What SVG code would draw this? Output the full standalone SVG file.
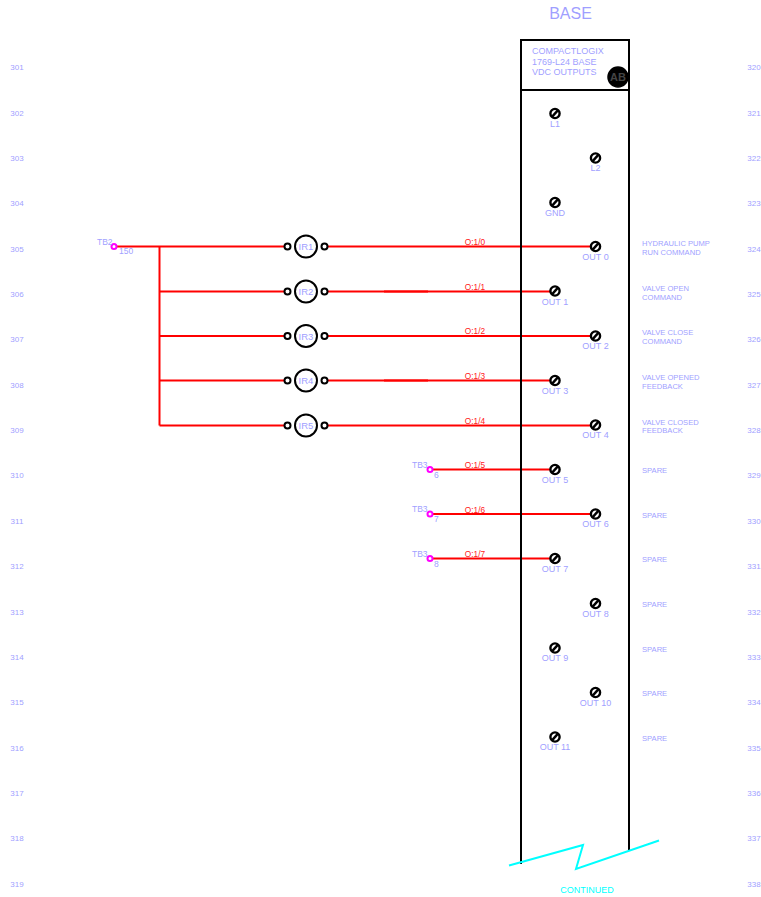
<svg xmlns="http://www.w3.org/2000/svg" width="761" height="897" viewBox="0 0 761 897">
<style>
text{font-family:"Liberation Sans",Arial,sans-serif;fill:#9f9fff;font-size:9px}
.m{text-anchor:middle}
.n{font-size:8px;text-anchor:middle}
.w{fill:none;stroke:#ff0000;stroke-width:2}
.w2{fill:none;stroke:#ff0000;stroke-width:1.8}
.r{fill:#ff2020;font-size:8.3px;text-anchor:middle}
.b{fill:none;stroke:#000;stroke-width:2}
.tb{fill:#fff;stroke:#ff00ff;stroke-width:2}
.lamp{fill:#fff;stroke:#000;stroke-width:2}
.pin{fill:#fff;stroke:#000;stroke-width:2}
.t1{fill:#fff;stroke:#000;stroke-width:2.4}
.t2{stroke:#000;stroke-width:2.4}
.c{fill:#00ffff;font-size:9px;text-anchor:middle}
.d{font-size:7.6px}
.l{font-size:9.5px;text-anchor:middle}
.s{font-size:8.5px}
</style>
<defs>
<g id="term"><circle class="t1" r="4.600"/><line class="t2" x1="-3.200" y1="3.600" x2="3.200" y2="-3.600"/></g>
<g id="lampg"><circle class="pin" cx="-18.500" r="3"/><circle class="pin" cx="18.500" r="3"/><circle class="lamp" r="11"/></g>
</defs>
<g id="rungs-left">
<text class="n" x="17" y="70">301</text><text class="n" x="17" y="116">302</text><text class="n" x="17" y="161">303</text><text class="n" x="17" y="206">304</text><text class="n" x="17" y="252">305</text><text class="n" x="17" y="297">306</text><text class="n" x="17" y="342">307</text><text class="n" x="17" y="388">308</text><text class="n" x="17" y="433">309</text><text class="n" x="17" y="478">310</text><text class="n" x="17" y="524">311</text><text class="n" x="17" y="569">312</text><text class="n" x="17" y="615">313</text><text class="n" x="17" y="660">314</text><text class="n" x="17" y="705">315</text><text class="n" x="17" y="751">316</text><text class="n" x="17" y="796">317</text><text class="n" x="17" y="841">318</text><text class="n" x="17" y="887">319</text>
</g>
<g id="rungs-right">
<text class="n" x="754" y="70">320</text><text class="n" x="754" y="116">321</text><text class="n" x="754" y="161">322</text><text class="n" x="754" y="206">323</text><text class="n" x="754" y="252">324</text><text class="n" x="754" y="297">325</text><text class="n" x="754" y="342">326</text><text class="n" x="754" y="388">327</text><text class="n" x="754" y="433">328</text><text class="n" x="754" y="478">329</text><text class="n" x="754" y="524">330</text><text class="n" x="754" y="569">331</text><text class="n" x="754" y="615">332</text><text class="n" x="754" y="660">333</text><text class="n" x="754" y="705">334</text><text class="n" x="754" y="751">335</text><text class="n" x="754" y="796">336</text><text class="n" x="754" y="841">337</text><text class="n" x="754" y="887">338</text>
</g>
<g id="connectors">
<path class="w" d="M114 246.500H287M325 246.500H595"/>
<path class="w" d="M159.500 246.500V425.500"/>
<path class="w2" d="M159.500 291.500H287M325 291.500H555"/>
<path class="w" d="M384 291.500H428"/>
<path class="w" d="M159.500 336H287M325 336H595"/>
<path class="w2" d="M159.500 380.500H287M325 380.500H555"/>
<path class="w" d="M384 380.500H428"/>
<path class="w" d="M159.500 425.500H287M325 425.500H595"/>
<path class="w" d="M431 469.500H555"/>
<path class="w" d="M431 514H595"/>
<path class="w" d="M431 558.500H555"/>
</g>
<g id="base">
<text x="570.500" y="19" class="m" style="font-size:16px">BASE</text>
<path class="b" d="M521 864V40H629V851M521 90H629"/>
<text x="532" y="54">COMPACTLOGIX</text><text x="532" y="65">1769-L24 BASE</text><text x="532" y="75">VDC OUTPUTS</text>
<g id="ab-logo"><circle cx="618" cy="77" r="10" fill="#000" stroke="#000" stroke-width="1.500"/><text x="618" y="81" class="m" style="font-size:11px;fill:#444;font-weight:bold">AB</text></g>
</g>
<g id="continued">
<path d="M509 865.500L583 845L576 869L659 840.500" fill="none" stroke="#00ffff" stroke-width="2"/>
<text x="587" y="893" class="c">CONTINUED</text>
</g>
<g id="TB2"><circle class="tb" cx="114" cy="246.500" r="2.500"/><text class="s" x="97" y="245">TB2</text><text class="s" x="119" y="254">150</text></g>
<g id="IR1"><use href="#lampg" x="306" y="246.500"/><text x="306" y="250" class="l">IR1</text></g>
<g id="IR2"><use href="#lampg" x="306" y="291.500"/><text x="306" y="295" class="l">IR2</text></g>
<g id="IR3"><use href="#lampg" x="306" y="336"/><text x="306" y="340" class="l">IR3</text></g>
<g id="IR4"><use href="#lampg" x="306" y="380.500"/><text x="306" y="384" class="l">IR4</text></g>
<g id="IR5"><use href="#lampg" x="306" y="425.500"/><text x="306" y="429" class="l">IR5</text></g>
<g id="wire-labels">
<text class="r" x="475" y="245">O:1/0</text><text class="r" x="475" y="290">O:1/1</text><text class="r" x="475" y="334">O:1/2</text><text class="r" x="475" y="379">O:1/3</text><text class="r" x="475" y="424">O:1/4</text><text class="r" x="475" y="468">O:1/5</text><text class="r" x="475" y="513">O:1/6</text><text class="r" x="475" y="557">O:1/7</text>
</g>
<g id="TB3-6"><circle class="tb" cx="430" cy="469.500" r="2.500"/><text class="s" x="412" y="468">TB3</text><text class="s" x="434" y="478">6</text></g>
<g id="TB3-7"><circle class="tb" cx="430" cy="514" r="2.500"/><text class="s" x="412" y="512">TB3</text><text class="s" x="434" y="522">7</text></g>
<g id="TB3-8"><circle class="tb" cx="430" cy="558.500" r="2.500"/><text class="s" x="412" y="557">TB3</text><text class="s" x="434" y="567">8</text></g>
<g id="L1"><use href="#term" x="555" y="113.500"/><text x="555" y="127" class="m">L1</text></g>
<g id="L2"><use href="#term" x="595.500" y="158"/><text x="595.500" y="171" class="m">L2</text></g>
<g id="GND"><use href="#term" x="555" y="202.500"/><text x="555" y="216" class="m">GND</text></g>
<g id="OUT0"><use href="#term" x="595.500" y="246.500"/><text x="595.500" y="260" class="m">OUT 0</text></g>
<g id="OUT1"><use href="#term" x="555" y="291"/><text x="555" y="305" class="m">OUT 1</text></g>
<g id="OUT2"><use href="#term" x="595.500" y="336"/><text x="595.500" y="349" class="m">OUT 2</text></g>
<g id="OUT3"><use href="#term" x="555" y="380.500"/><text x="555" y="394" class="m">OUT 3</text></g>
<g id="OUT4"><use href="#term" x="595.500" y="425"/><text x="595.500" y="438" class="m">OUT 4</text></g>
<g id="OUT5"><use href="#term" x="555" y="469.500"/><text x="555" y="483" class="m">OUT 5</text></g>
<g id="OUT6"><use href="#term" x="595.500" y="514"/><text x="595.500" y="527" class="m">OUT 6</text></g>
<g id="OUT7"><use href="#term" x="555" y="558.500"/><text x="555" y="572" class="m">OUT 7</text></g>
<g id="OUT8"><use href="#term" x="595.500" y="603.500"/><text x="595.500" y="617" class="m">OUT 8</text></g>
<g id="OUT9"><use href="#term" x="555" y="648"/><text x="555" y="661" class="m">OUT 9</text></g>
<g id="OUT10"><use href="#term" x="595.500" y="692.500"/><text x="595.500" y="706" class="m">OUT 10</text></g>
<g id="OUT11"><use href="#term" x="555" y="737"/><text x="555" y="750" class="m">OUT 11</text></g>
<g id="descriptions">
<text class="d" x="642" y="246">HYDRAULIC PUMP</text><text class="d" x="642" y="255">RUN COMMAND</text>
<text class="d" x="642" y="291">VALVE OPEN</text><text class="d" x="642" y="300">COMMAND</text>
<text class="d" x="642" y="335">VALVE CLOSE</text><text class="d" x="642" y="344">COMMAND</text>
<text class="d" x="642" y="380">VALVE OPENED</text><text class="d" x="642" y="389">FEEDBACK</text>
<text class="d" x="642" y="425">VALVE CLOSED</text><text class="d" x="642" y="433">FEEDBACK</text>
<text class="d" x="642" y="473">SPARE</text><text class="d" x="642" y="518">SPARE</text><text class="d" x="642" y="562">SPARE</text><text class="d" x="642" y="607">SPARE</text><text class="d" x="642" y="652">SPARE</text><text class="d" x="642" y="696">SPARE</text><text class="d" x="642" y="741">SPARE</text>
</g>
</svg>
